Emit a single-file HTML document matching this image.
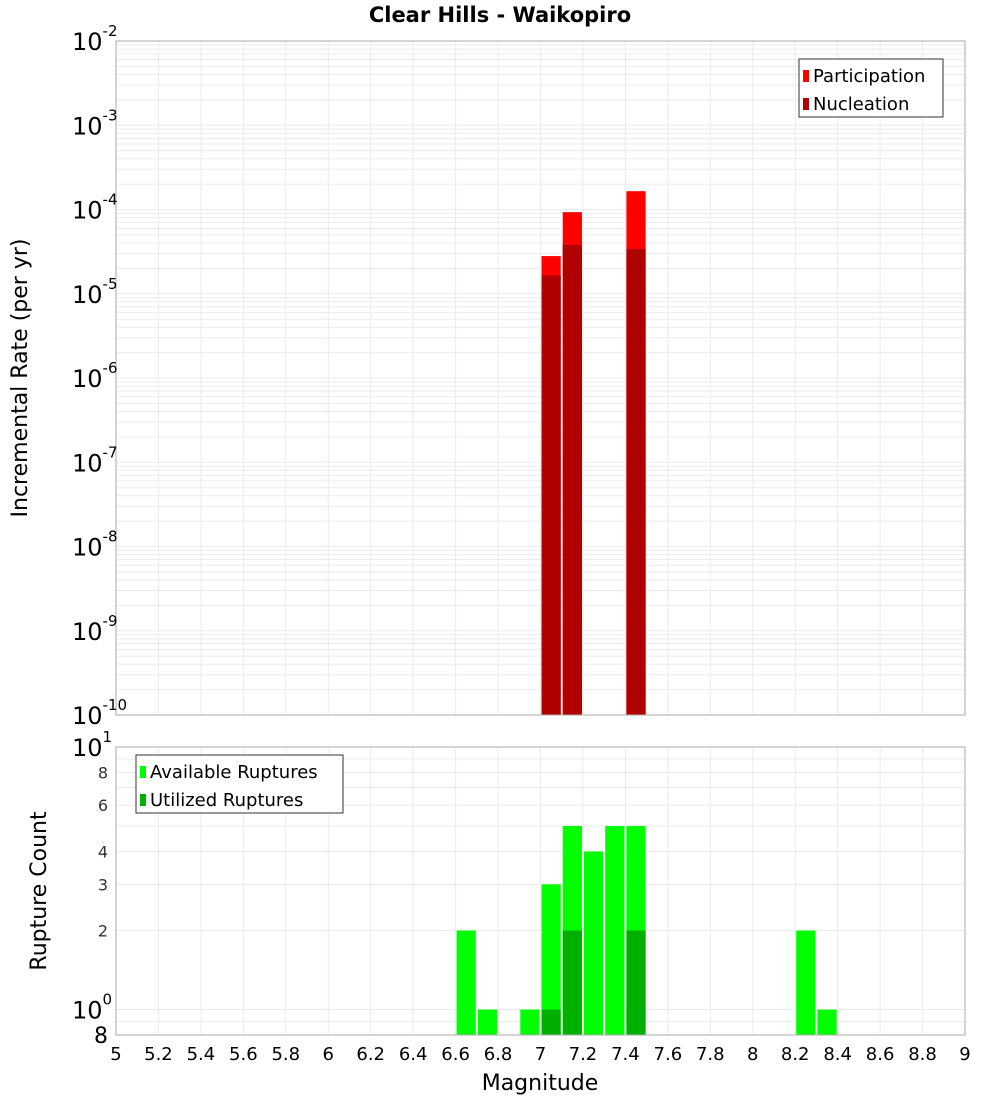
<!DOCTYPE html>
<html><head><meta charset="utf-8"><style>
body{margin:0;background:#fff;}
svg text{font-family:"DejaVu Sans","Liberation Sans",sans-serif;}
</style></head><body>
<svg id="c" width="1000" height="1100"></svg>
<script>
const mags = [6.65,6.75,6.95,7.05,7.15,7.25,7.35,7.45,8.25,8.35];
const available = [2,1,1,3,5,4,5,5,2,1];
const utilMags = [7.05,7.15,7.45];
const utilized = [1,2,2];
const rateMags = [7.05,7.15,7.45];
const participation = [2.8e-5,9.3e-5,1.65e-4];
const nucleation = [1.65e-5,3.8e-5,3.4e-5];
const xTicks = [5,5.2,5.4,5.6,5.8,6,6.2,6.4,6.6,6.8,7,7.2,7.4,7.6,7.8,8,8.2,8.4,8.6,8.8,9];
const topExps = [-2,-3,-4,-5,-6,-7,-8,-9,-10];
const botTicks = [2,3,4,6,8];

const NS="http://www.w3.org/2000/svg", svg=document.getElementById('c');
function el(t,a,p){const e=document.createElementNS(NS,t);for(const k in a)e.setAttribute(k,a[k]);(p||svg).appendChild(e);return e;}
const X0=116,X1=965;
const x=m=>X0+(m-5)/4*(X1-X0);
const T0=41,T1=715;
const yT=v=>T0+(-2-Math.log10(v))*(T1-T0)/8;
const B0=747,B1=1035;
const yB=v=>B0+(1-Math.log10(v))*(B1-B0)/(1-Math.log10(0.8));

// title
let t=el('text',{x:500,y:22,'text-anchor':'middle','font-size':21,'font-weight':'bold'});t.textContent='Clear Hills - Waikopiro';


// top grid
const tg=el('g',{});
for(let e=-10;e<-2;e++)for(let k=1;k<10;k++){const yy=yT(k*Math.pow(10,e));el('line',{x1:X0,x2:X1,y1:yy,y2:yy,stroke:'#ebebeb','stroke-width':1},tg);}
xTicks.forEach(m=>{el('line',{x1:x(m),x2:x(m),y1:T0,y2:T1,stroke:'#ebebeb'},tg);el('line',{x1:x(m),x2:x(m),y1:B0,y2:B1,stroke:'#ebebeb'},tg);});
for(let k=8;k<=10;k++){}
[0.8,0.9,1,2,3,4,5,6,7,8,9,10].forEach(v=>el('line',{x1:X0,x2:X1,y1:yB(v),y2:yB(v),stroke:'#ebebeb'},tg));

// top bars
rateMags.forEach((m,i)=>{
 let r=el('rect',{x:x(m-0.05)+1,y:yT(participation[i]),width:x(m+0.05)-x(m-0.05)-2,height:T1-yT(participation[i]),fill:'#ff0000'});
 
 r=el('rect',{x:x(m-0.05)+1,y:yT(nucleation[i]),width:x(m+0.05)-x(m-0.05)-2,height:T1-yT(nucleation[i]),fill:'#b00000'});
 
});
// bottom bars
mags.forEach((m,i)=>{
 const r=el('rect',{x:x(m-0.05)+1,y:yB(available[i]),width:x(m+0.05)-x(m-0.05)-2,height:B1-yB(available[i]),fill:'#00ff00'});
 
});
utilMags.forEach((m,i)=>{
 const r=el('rect',{x:x(m-0.05)+1,y:yB(utilized[i]),width:x(m+0.05)-x(m-0.05)-2,height:B1-yB(utilized[i]),fill:'#00b000'});
 
});

// frames
let f=el('rect',{x:X0,y:T0,width:X1-X0,height:T1-T0,fill:'none',stroke:'#aaa'});
f=el('rect',{x:X0,y:B0,width:X1-X0,height:B1-B0,fill:'none',stroke:'#aaa'});

// top y labels
topExps.forEach(e=>{
 const tx=el('text',{x:112,y:yT(Math.pow(10,e))+9,'text-anchor':'end','font-size':24});
 
 const a=el('tspan',{},tx);a.textContent='10';
 const b=el('tspan',{dy:-14,'font-size':15},tx);b.textContent=String(e);
 tx.setAttribute('text-anchor','start');tx.setAttribute('x',e===-10?72:72);
});
// bottom y labels
[[1,'0'],[10,'1']].forEach(([v,s])=>{
 const tx=el('text',{x:72,y:yB(v)+9,'font-size':24});
 const a=el('tspan',{},tx);a.textContent='10';const b=el('tspan',{dy:-14,'font-size':15},tx);b.textContent=s;
});
botTicks.forEach(v=>{const tx=el('text',{x:108,y:yB(v)+6,'text-anchor':'end','font-size':16,fill:'#333'});tx.textContent=String(v);});
t=el('text',{x:108,y:1043,'text-anchor':'end','font-size':22});t.textContent='8';
// x labels
xTicks.forEach(m=>{const tx=el('text',{x:x(m),y:1060,'text-anchor':'middle','font-size':18});tx.textContent=String(m);});
t=el('text',{x:540,y:1090,'text-anchor':'middle','font-size':22});t.textContent='Magnitude';
t=el('text',{x:0,y:0,'text-anchor':'middle','font-size':22,transform:'translate(27,378) rotate(-90)'});t.textContent='Incremental Rate (per yr)';
t=el('text',{x:0,y:0,'text-anchor':'middle','font-size':22,transform:'translate(46,891) rotate(-90)'});t.textContent='Rupture Count';

// legends
function legend(x0,y0,w,items,name){
 const g=el('g',{});
 el('rect',{x:x0,y:y0,width:w,height:58,fill:'#fff',stroke:'#333'},g);
 items.forEach(([c,s],i)=>{el('rect',{x:x0+4,y:y0+11+i*28,width:6,height:12,fill:c},g);
  const tx=el('text',{x:x0+14,y:y0+23+i*28,'font-size':18},g);tx.textContent=s;});
}
legend(799,59,144,[['#ff0000','Participation'],['#b00000','Nucleation']],'top-legend');
legend(136,755,207,[['#00ff00','Available Ruptures'],['#00b000','Utilized Ruptures']],'bottom-legend');
</script>
</body></html>
